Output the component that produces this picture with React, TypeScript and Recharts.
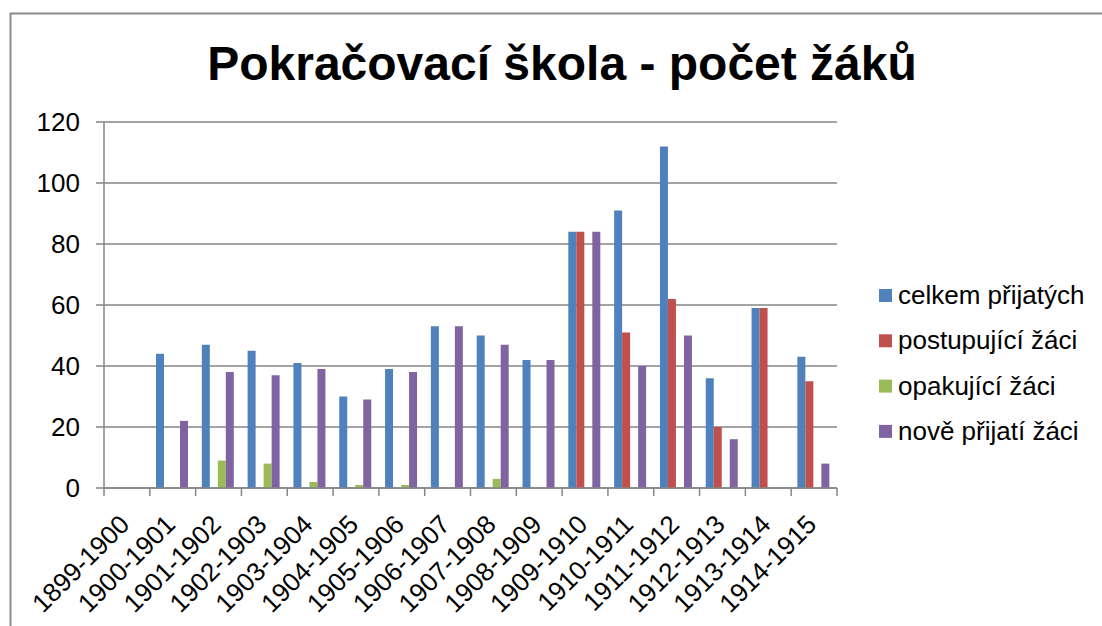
import React from "react";
import { BarChart, Bar, XAxis, YAxis, CartesianGrid, Legend } from "recharts";

const years = [
  "1899-1900", "1900-1901", "1901-1902", "1902-1903", "1903-1904", "1904-1905",
  "1905-1906", "1906-1907", "1907-1908", "1908-1909", "1909-1910", "1910-1911",
  "1911-1912", "1912-1913", "1913-1914", "1914-1915",
];
const celkem = [0, 44, 47, 45, 41, 30, 39, 53, 50, 42, 84, 91, 112, 36, 59, 43];
const postupujici = [0, 0, 0, 0, 0, 0, 0, 0, 0, 0, 84, 51, 62, 20, 59, 35];
const opakujici = [0, 0, 9, 8, 2, 1, 1, 0, 3, 0, 0, 0, 0, 0, 0, 0];
const noveprijati = [0, 22, 38, 37, 39, 29, 38, 53, 47, 42, 84, 40, 50, 16, 0, 8];
const yTicks = [0, 20, 40, 60, 80, 100, 120];
const seriesNames = ["celkem přijatých", "postupující žáci", "opakující žáci", "nově přijatí žáci"];

const data = years.map((y, i) => ({
  year: y,
  celkem: celkem[i],
  postup: postupujici[i],
  opak: opakujici[i],
  nove: noveprijati[i],
}));

const FONT = '"Liberation Sans", Arial, sans-serif';
const GRID = "#868686";
const PLOT_LEFT = 104;
const PLOT_RIGHT = 837;
const BAND = (PLOT_RIGHT - PLOT_LEFT) / years.length;

function YearTick(props: any) {
  const { x, y, payload, index } = props;
  const left = x - BAND / 2;
  return (
    <g>
      <line x1={left} y1={y} x2={left} y2={y + 8} stroke={GRID} strokeWidth={1.5} />
      {index === years.length - 1 && (
        <line x1={left + BAND} y1={y} x2={left + BAND} y2={y + 8} stroke={GRID} strokeWidth={1.5} />
      )}
      <text
        transform={`translate(${x + 4},${y + 38}) rotate(-45)`}
        textAnchor="end"
        fontSize={26}
        fontFamily={FONT}
        fill="#000"
      >
        {payload.value}
      </text>
    </g>
  );
}

function LegendBox(props: any) {
  const items = [...(props.payload || [])].sort(
    (a: any, b: any) => seriesNames.indexOf(a.value) - seriesNames.indexOf(b.value)
  );
  return (
    <svg width={215} height={185}>
      {items.map((it: any, i: number) => (
        <g key={i} transform={`translate(0,${i * 45.3})`}>
          <rect x={0} y={9} width={13} height={13} fill={it.color} />
          <text x={19} y={24} fontSize={26} fontFamily={FONT} fill="#000">
            {it.value}
          </text>
        </g>
      ))}
    </svg>
  );
}

export default function App() {
  return (
    <div style={{ position: "absolute", left: 0, top: 0, width: 1102, height: 626, background: "#fff" }}>
      <BarChart
        width={1102}
        height={626}
        data={data}
        margin={{ top: 122, right: 1102 - PLOT_RIGHT, bottom: 0, left: 0 }}
        barCategoryGap="13.5%"
        barGap={0}
      >
        <CartesianGrid vertical={false} stroke={GRID} strokeWidth={1.5} />
        <XAxis
          dataKey="year"
          height={138}
          interval={0}
          tickSize={0}
          tickMargin={0}
          tickLine={false}
          axisLine={{ stroke: GRID, strokeWidth: 1.5 }}
          tick={<YearTick />}
        />
        <YAxis
          width={PLOT_LEFT}
          domain={[0, 120]}
          ticks={yTicks}
          interval={0}
          tickSize={8}
          tickMargin={16}
          axisLine={{ stroke: GRID, strokeWidth: 1.5 }}
          tickLine={{ stroke: GRID, strokeWidth: 1.5 }}
          tick={{ fontSize: 26, fontFamily: FONT, fill: "#000" }}
        />
        <Legend
          layout="vertical"
          verticalAlign="middle"
          align="center"
          content={<LegendBox />}
          wrapperStyle={{ position: "absolute", left: 879, top: 280, width: 215, height: 185 }}
        />
        <Bar dataKey="celkem" name={seriesNames[0]} fill="#4F81BD" isAnimationActive={false} />
        <Bar dataKey="postup" name={seriesNames[1]} fill="#C0504D" isAnimationActive={false} />
        <Bar dataKey="opak" name={seriesNames[2]} fill="#9BBB59" isAnimationActive={false} />
        <Bar dataKey="nove" name={seriesNames[3]} fill="#8064A2" isAnimationActive={false} />
      </BarChart>
      <svg
        width={1102}
        height={626}
        style={{ position: "absolute", left: 0, top: 0, pointerEvents: "none" }}
      >
        <path d="M10.5 626 V13.5 H1102" fill="none" stroke="#8c8c8c" strokeWidth={2} />
        <text x={562} y={80} textAnchor="middle" fontSize={48} fontWeight="bold" fontFamily={FONT} fill="#000">
          Pokračovací škola - počet žáků
        </text>
      </svg>
    </div>
  );
}
